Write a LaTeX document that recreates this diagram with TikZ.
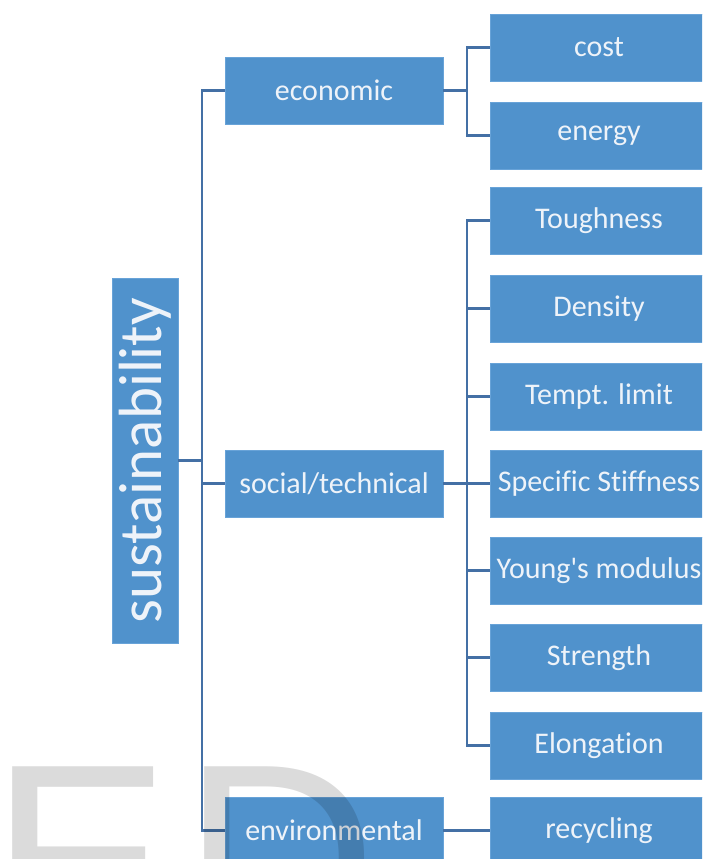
\documentclass[tikz,border=0pt]{standalone}
\usepackage{fontspec}
\setmainfont{Carlito}[Ligatures={NoCommon}]
\newfontfamily\markfont{Liberation Sans}
\usepackage{graphicx}
\usetikzlibrary{positioning}
\definecolor{boxblue}{RGB}{80,146,204}
\definecolor{boxedge}{RGB}{104,163,216}
\definecolor{linkblue}{RGB}{68,112,165}
\definecolor{boxtext}{RGB}{238,243,249}
\tikzset{box/.style={rectangle, fill=boxblue, draw=boxedge, line width=0.8pt, text=boxtext, minimum width=218pt, minimum height=67pt, inner sep=0pt, font=\fontsize{30}{36}\selectfont}}
\tikzset{link/.style={draw=linkblue, line width=2.2pt}}

\begin{document}
\begin{tikzpicture}[x=1pt, y=-1pt]
\clip (0,0) rectangle (702,859);
\node[box, minimum width=66pt, minimum height=365pt, font=\fontsize{61}{61}\selectfont] (sust) at (145,460.5) {\rotatebox{90}{sustainability}};
\node[box] (econ) at (334,90.5) {economic};
\node[box] (social) at (334,483.5) {social/technical};
\node[box] (env) at (334,830.5) {environmental};
\node[box] (cost) at (599,47.5) {cost};
\node[box] (energy) at (599,135.5) {energy};
\node[box] (tough) at (599,220.5) {Toughness};
\node[box] (dens) at (599,308.5) {Density};
\node[box] (tempt) at (599,396.5) {Tempt. limit};
\node[box] (stiff) at (599,483.5) {Specific Stiffness};
\node[box] (young) at (599,570.5) {Young\textquotesingle s modulus};
\node[box] (strength) at (599,657.5) {Strength};
\node[box] (elong) at (599,745.5) {Elongation};
\node[box] (recyc) at (599,830.5) {recycling};
\coordinate (trunk) at (202,0);
\coordinate (bus) at (467,0);
% main trunk
\draw[link] (econ.west) -| (trunk |- env.west) -- (env.west);
\draw[link] (sust.east) -- (sust.east -| trunk);
\draw[link] (social.west) -- (social.west -| trunk);
% economic
\draw[link] (econ.east) -- (econ.east -| bus);
\draw[link] (cost.west) -| (bus |- energy.west) -- (energy.west);
% social/technical
\draw[link] (social.east) -- (social.east -| bus);
\draw[link] (tough.west) -| (bus |- elong.west) -- (elong.west);
\draw[link] (dens.west) -- (dens.west -| bus);
\draw[link] (tempt.west) -- (tempt.west -| bus);
\draw[link] (stiff.west) -- (stiff.west -| bus);
\draw[link] (young.west) -- (young.west -| bus);
\draw[link] (strength.west) -- (strength.west -| bus);
% environmental
\draw[link] (env.east) -- (recyc.west);
\node[anchor=north west, inner sep=0pt, text=black, text opacity=0.14, font=\markfont\fontsize{270}{270}\selectfont] (mark) at (-10,767) {E\kern12pt D};
\end{tikzpicture}
\end{document}
